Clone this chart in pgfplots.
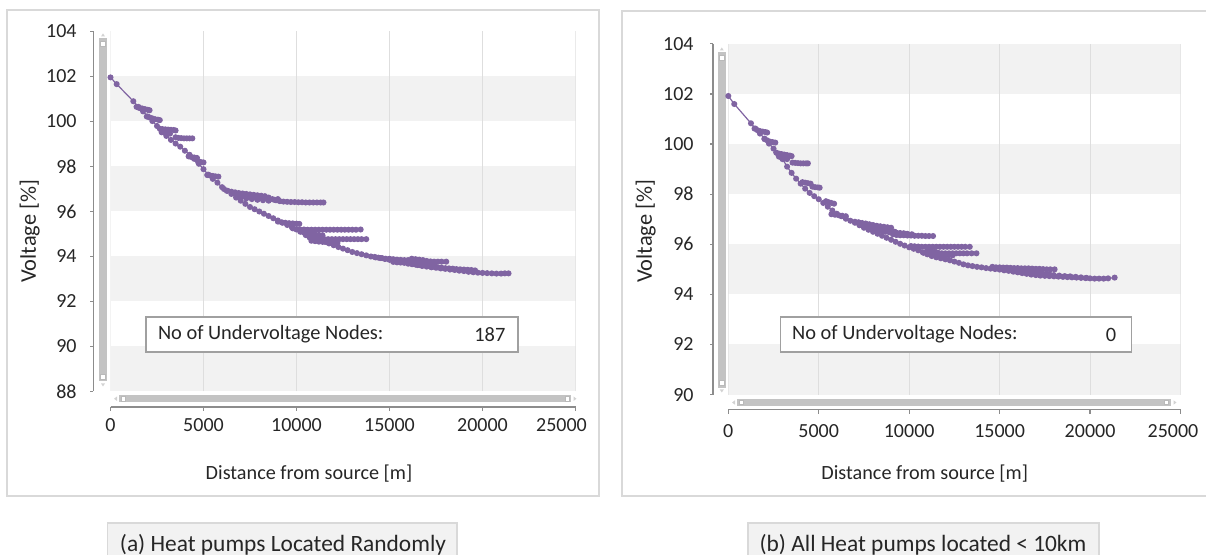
\documentclass[border=0pt]{standalone}
\usepackage{pgfplots}
\pgfplotsset{compat=1.18}
\usepackage{fontspec}
\setmainfont{Carlito}
\definecolor{pcol}{HTML}{8064A2}
\definecolor{bandc}{HTML}{F2F2F2}
\definecolor{gridc}{HTML}{DEDEDE}
\definecolor{scrc}{HTML}{C3C3C3}
\definecolor{axc}{HTML}{8C8C8C}
\definecolor{framec}{HTML}{D9D9D9}
\definecolor{boxc}{HTML}{A0A0A0}
\definecolor{txtc}{HTML}{262626}
\pgfplotsset{
  ser/.style={color=pcol, line width=0.6pt, mark=*, mark size=1.2pt, mark options={solid, fill=pcol}},
  panel/.style={scale only axis, xmin=0, xmax=25000, xtick={0,5000,10000,15000,20000},
    extra x ticks={25000},
    axis line style={draw=none}, tick style={draw=none}, major tick length=0pt,
    /pgf/number format/1000 sep={}, /pgf/number format/assume math mode=true,
    scaled x ticks=false, scaled y ticks=false,
    ticklabel style={font=\fontsize{10pt}{12pt}\selectfont, text=txtc}},
}
\begin{document}
\begin{tikzpicture}
\useasboundingbox (0pt,0pt) rectangle (603pt,277.5pt);
% ---------- decorations in pixel units ----------
\begin{scope}[x=0.5pt, y=-0.5pt, shift={(0pt,277.5pt)}]
  \draw[framec, line width=0.6pt] (6.9,10) rectangle (599,496);
  \draw[framec, line width=0.6pt] (622,11) rectangle (1215,496);
  % left axis lines
  \draw[axc, line width=0.6pt] (93.3,31.5) -- (93.3,391.5);
  \foreach \k in {0,...,8} \draw[axc, line width=0.6pt] (90,{31.5+\k*45}) -- (93.3,{31.5+\k*45});
  \draw[axc, line width=0.6pt] (110.5,407) -- (575.5,407);
  \foreach \k in {0,...,5} \draw[axc, line width=0.6pt] ({110.5+\k*93},407) -- ({110.5+\k*93},411);
  % left scroll bars
  \fill[scrc] (99,38) rectangle (107,381);
  \draw[fill=white, draw=gray!55, line width=0.3pt] (100.5,41) rectangle (105.5,46);
  \draw[fill=white, draw=gray!55, line width=0.3pt] (100.5,374) rectangle (105.5,379);
  \fill[gray!35] (101,36.5) -- (105,36.5) -- (103,33.5) -- cycle;
  \fill[gray!35] (101,383.5) -- (105,383.5) -- (103,386.5) -- cycle;
  \fill[scrc] (119,395) rectangle (571,402.5);
  \draw[fill=white, draw=gray!55, line width=0.3pt] (121,396.5) rectangle (125.5,401);
  \draw[fill=white, draw=gray!55, line width=0.3pt] (565,396.5) rectangle (569.5,401);
  \fill[gray!35] (117,396.5) -- (117,401) -- (114,398.75) -- cycle;
  \fill[gray!35] (573.5,396.5) -- (573.5,401) -- (576.5,398.75) -- cycle;
  % right axis lines
  \draw[axc, line width=0.6pt] (713,43.9) -- (713,394.6);
  \foreach \k in {0,...,7} \draw[axc, line width=0.6pt] (710,{43.9+\k*50.1}) -- (713,{43.9+\k*50.1});
  \draw[axc, line width=0.6pt] (728.3,409.6) -- (1180.5,409.6);
  \foreach \k in {0,...,5} \draw[axc, line width=0.6pt] ({728.3+\k*90.44},409.6) -- ({728.3+\k*90.44},413.6);
  % right scroll bars
  \fill[scrc] (718,52) rectangle (725.5,388);
  \draw[fill=white, draw=gray!55, line width=0.3pt] (719.5,55) rectangle (724,60);
  \draw[fill=white, draw=gray!55, line width=0.3pt] (719.5,380.5) rectangle (724,385.5);
  \fill[gray!35] (719.8,50.5) -- (723.8,50.5) -- (721.8,47.5) -- cycle;
  \fill[gray!35] (719.8,389.5) -- (723.8,389.5) -- (721.8,392.5) -- cycle;
  \fill[scrc] (737,399) rectangle (1171,406);
  \draw[fill=white, draw=gray!55, line width=0.3pt] (739,400.3) rectangle (743.5,404.7);
  \draw[fill=white, draw=gray!55, line width=0.3pt] (1164,400.3) rectangle (1168.5,404.7);
  \fill[gray!35] (735,400.3) -- (735,404.7) -- (732,402.5) -- cycle;
  \fill[gray!35] (1173.5,400.3) -- (1173.5,404.7) -- (1176.5,402.5) -- cycle;
\end{scope}
% ---------- left panel ----------
\begin{axis}[panel, at={(55.25pt,81.75pt)}, anchor=south west, width=232.5pt, height=180pt,
  ymin=88, ymax=104, ytick={88,90,92,94,96,98,100,102,104},
  xticklabel style={anchor=center, yshift=-17pt},
  extra x tick style={xticklabel style={xshift=-7pt}},
  yticklabel style={anchor=east, inner sep=0pt, xshift=-16.75pt}]
\fill[bandc] (axis cs:0,100) rectangle (axis cs:25000,102);
\fill[bandc] (axis cs:0,96) rectangle (axis cs:25000,98);
\fill[bandc] (axis cs:0,92) rectangle (axis cs:25000,94);
\fill[bandc] (axis cs:0,88) rectangle (axis cs:25000,90);
\draw[gridc, line width=0.5pt] (axis cs:0,88) -- (axis cs:0,104);
\draw[gridc, line width=0.5pt] (axis cs:5000,88) -- (axis cs:5000,104);
\draw[gridc, line width=0.5pt] (axis cs:10000,88) -- (axis cs:10000,104);
\draw[gridc, line width=0.5pt] (axis cs:15000,88) -- (axis cs:15000,104);
\draw[gridc, line width=0.5pt] (axis cs:20000,88) -- (axis cs:20000,104);
\draw[gridc, line width=0.5pt] (axis cs:25000,88) -- (axis cs:25000,104);
% trunk
\addplot[ser] coordinates {(0,101.96) (333,101.66) (1226,100.90) (1500,100.65) (1750,100.45) (2000,100.22) (2250,100.02) (2500,99.80) (2750,99.58) (3000,99.36) (3250,99.18) (3500,99.02) (3750,98.88) (4000,98.70) (4250,98.52) (4500,98.34) (4750,98.12) (5000,97.88) (5250,97.64) (5500,97.45) (5750,97.28) (6000,97.08) (6250,96.92) (6500,96.78) (6750,96.62) (7000,96.48) (7250,96.34) (7500,96.20) (7750,96.10) (8000,96.00) (8250,95.90) (8500,95.80) (8750,95.70) (9000,95.60) (9250,95.50) (9500,95.40) (9750,95.30) (10000,95.20) (10250,95.12) (10500,95.04) (10750,94.95) (11000,94.85) (11250,94.76) (11500,94.66) (11750,94.58) (12000,94.50) (12250,94.42) (12500,94.35) (12750,94.28) (13000,94.20) (13250,94.15) (13500,94.10) (13750,94.05) (14000,94.00) (14250,93.96) (14500,93.93) (14750,93.89) (15000,93.85) (15250,93.81) (15500,93.78) (15750,93.74) (16000,93.70) (16250,93.66) (16500,93.62) (16750,93.58) (17000,93.55) (17250,93.52) (17500,93.50) (17750,93.47) (18000,93.45) (18250,93.42) (18500,93.40) (18750,93.37) (19000,93.35) (19250,93.32) (19500,93.30) (19750,93.28) (20000,93.27) (20250,93.26) (20500,93.25) (20750,93.24) (21000,93.24) (21200,93.25) (21400,93.25)};
% branches
\addplot[ser] coordinates {(1400,100.65) (1550,100.60) (1700,100.58) (1850,100.55) (2000,100.52) (2100,100.50)};
\addplot[ser] coordinates {(1950,100.22) (2100,100.18) (2250,100.14) (2400,100.10) (2550,100.08) (2650,100.06)};
\addplot[ser] coordinates {(2650,99.68) (2800,99.66) (2950,99.65) (3100,99.64) (3250,99.63) (3400,99.62) (3500,99.60)};
\addplot[ser] coordinates {(2750,99.52) (2900,99.50) (3050,99.48) (3200,99.46)};
\addplot[ser] coordinates {(3500,99.30) (3650,99.27) (3800,99.26) (3950,99.25) (4100,99.25) (4250,99.25) (4400,99.25)};
\addplot[ser] coordinates {(4200,98.45) (4350,98.42) (4500,98.40) (4650,98.38)};
\addplot[ser] coordinates {(4700,98.22) (4850,98.20) (5000,98.18)};
\addplot[ser] coordinates {(5200,97.62) (5350,97.60) (5500,97.58) (5650,97.56) (5800,97.55)};
\addplot[ser] coordinates {(6100,97.00) (6300,96.92) (6500,96.88) (6700,96.85) (6900,96.82) (7100,96.80) (7300,96.78) (7500,96.76) (7700,96.74) (7900,96.72) (8100,96.70) (8300,96.68) (8500,96.62) (8700,96.55) (8900,96.50) (9100,96.46) (9300,96.44) (9500,96.43) (9700,96.42) (9900,96.42) (10100,96.41) (10300,96.41) (10500,96.40) (10700,96.40) (10900,96.40) (11100,96.40) (11300,96.40) (11450,96.40)};
\addplot[ser] coordinates {(7000,96.62) (7300,96.58) (7600,96.55) (7900,96.52) (8200,96.50) (8500,96.48) (8800,96.52) (9000,96.55)};
\addplot[ser] coordinates {(6800,96.72) (7000,96.70) (7200,96.68) (7400,96.66) (7600,96.64) (7800,96.62) (8000,96.60) (8200,96.58)};
\addplot[ser] coordinates {(9000,95.55) (9200,95.52) (9400,95.50) (9600,95.48) (9800,95.47) (10000,95.46) (10150,95.45)};
\addplot[ser] coordinates {(9800,95.25) (10000,95.22) (10200,95.20) (10400,95.20) (10600,95.19) (10800,95.19) (11000,95.19) (11200,95.19) (11400,95.19) (11600,95.19) (11800,95.19) (12000,95.19) (12200,95.19) (12400,95.19) (12600,95.19) (12800,95.19) (13000,95.19) (13200,95.19) (13450,95.20)};
\addplot[ser] coordinates {(10200,95.10) (10400,95.06) (10600,95.03) (10800,95.00) (11000,94.98) (11200,94.96) (11400,94.94)};
\addplot[ser] coordinates {(10500,94.95) (10700,94.85) (10900,94.80) (11100,94.78) (11300,94.77) (11500,94.77) (11700,94.77) (11900,94.77) (12100,94.77) (12300,94.77) (12500,94.77) (12700,94.77) (12900,94.77) (13100,94.77) (13300,94.77) (13500,94.77) (13750,94.77)};
\addplot[ser] coordinates {(10800,94.70) (11000,94.68) (11200,94.66) (11400,94.65) (11600,94.64) (11800,94.63) (12000,94.62) (12200,94.60)};
\addplot[ser] coordinates {(14200,93.98) (14400,93.95) (14600,93.93) (14800,93.90) (15000,93.90) (15200,93.88) (15400,93.86) (15600,93.85) (15800,93.84) (16000,93.84) (16200,93.83) (16400,93.83) (16600,93.82) (16800,93.80) (17000,93.78) (17200,93.78) (17400,93.77) (17600,93.77) (17800,93.77) (18050,93.77)};
\addplot[ser] coordinates {(15800,93.72) (16000,93.68) (16200,93.66) (16400,93.64) (16600,93.62) (16800,93.60) (17000,93.58) (17200,93.56) (17400,93.54) (17600,93.52) (17800,93.50) (18000,93.48) (18200,93.47) (18400,93.46) (18600,93.44) (18800,93.43) (19000,93.42) (19200,93.41) (19400,93.40) (19600,93.38)};
\addplot[ser] coordinates {(16200,93.90) (16400,93.88) (16600,93.86) (16800,93.84) (17000,93.80)};
\addplot[ser] coordinates {(15200,93.76) (15400,93.74) (15600,93.73) (15800,93.76) (16000,93.78) (16200,93.76) (16400,93.74) (16600,93.72) (16800,93.70) (17000,93.69) (17200,93.68) (17400,93.66)};
\end{axis}
% ---------- right panel ----------
\begin{axis}[panel, at={(364.15pt,80.2pt)}, anchor=south west, width=226.1pt, height=175.35pt,
  ymin=90, ymax=104, ytick={90,92,94,96,98,100,102,104},
  xticklabel style={anchor=center, yshift=-18.2pt},
  extra x tick style={xticklabel style={xshift=-3.75pt}},
  yticklabel style={anchor=east, inner sep=0pt, xshift=-17.15pt}]
\fill[bandc] (axis cs:0,102) rectangle (axis cs:25000,104);
\fill[bandc] (axis cs:0,98) rectangle (axis cs:25000,100);
\fill[bandc] (axis cs:0,94) rectangle (axis cs:25000,96);
\fill[bandc] (axis cs:0,90) rectangle (axis cs:25000,92);
\draw[gridc, line width=0.5pt] (axis cs:0,90) -- (axis cs:0,104);
\draw[gridc, line width=0.5pt] (axis cs:5000,90) -- (axis cs:5000,104);
\draw[gridc, line width=0.5pt] (axis cs:10000,90) -- (axis cs:10000,104);
\draw[gridc, line width=0.5pt] (axis cs:15000,90) -- (axis cs:15000,104);
\draw[gridc, line width=0.5pt] (axis cs:20000,90) -- (axis cs:20000,104);
\draw[gridc, line width=0.5pt] (axis cs:25000,90) -- (axis cs:25000,104);
\addplot[ser] coordinates {(0,101.92) (330,101.60) (1254,100.83) (1500,100.62) (1750,100.42) (2000,100.22) (2250,100.02) (2500,99.82) (2750,99.60) (3000,99.40) (3250,99.10) (3500,98.85) (3750,98.62) (4000,98.42) (4250,98.22) (4500,98.05) (4750,97.92) (5000,97.80) (5250,97.65) (5500,97.50) (5750,97.35) (6000,97.22) (6250,97.12) (6500,97.02) (6750,96.94) (7000,96.86) (7250,96.76) (7500,96.66) (7750,96.58) (8000,96.50) (8250,96.42) (8500,96.34) (8750,96.26) (9000,96.18) (9250,96.10) (9500,96.02) (9750,95.95) (10000,95.88) (10250,95.82) (10500,95.76) (10750,95.68) (11000,95.60) (11250,95.53) (11500,95.48) (11750,95.44) (12000,95.40) (12250,95.36) (12500,95.31) (12750,95.26) (13000,95.20) (13250,95.16) (13500,95.13) (13750,95.10) (14000,95.08) (14250,95.05) (14500,95.03) (14750,95.01) (15000,94.99) (15250,94.96) (15500,94.94) (15750,94.91) (16000,94.88) (16250,94.85) (16500,94.82) (16750,94.79) (17000,94.77) (17250,94.75) (17500,94.74) (17750,94.73) (18000,94.72) (18250,94.71) (18500,94.70) (18750,94.69) (19000,94.68) (19250,94.67) (19500,94.66) (19750,94.65) (20000,94.64) (20250,94.63) (20500,94.63) (20750,94.63) (21000,94.64) (21360,94.67)};
\addplot[ser] coordinates {(1450,100.62) (1600,100.56) (1750,100.52) (1900,100.50) (2050,100.48) (2150,100.46)};
\addplot[ser] coordinates {(2000,100.20) (2150,100.15) (2300,100.10) (2450,100.08) (2600,100.06)};
\addplot[ser] coordinates {(2650,99.66) (2800,99.62) (2950,99.60) (3100,99.58) (3250,99.56) (3400,99.54) (3500,99.52)};
\addplot[ser] coordinates {(2800,99.50) (2950,99.46) (3100,99.42) (3250,99.40)};
\addplot[ser] coordinates {(3550,99.26) (3700,99.25) (3850,99.24) (4000,99.23) (4150,99.23) (4300,99.23) (4400,99.23)};
\addplot[ser] coordinates {(4100,98.48) (4250,98.46) (4400,98.44) (4550,98.42)};
\addplot[ser] coordinates {(4650,98.30) (4800,98.28) (4950,98.27) (5050,98.26)};
\addplot[ser] coordinates {(5400,97.72) (5550,97.68) (5700,97.65) (5850,97.62)};
\addplot[ser] coordinates {(5700,97.20) (5900,97.18) (6100,97.16) (6300,97.14) (6500,97.12)};
\addplot[ser] coordinates {(7000,96.90) (7200,96.88) (7400,96.85) (7600,96.83) (7800,96.80) (8000,96.77) (8200,96.74) (8400,96.72) (8600,96.70) (8800,96.68) (9000,96.66)};
\addplot[ser] coordinates {(7500,96.72) (7700,96.68) (7900,96.64) (8100,96.60) (8300,96.56) (8500,96.52) (8700,96.50) (8900,96.48) (9100,96.47) (9300,96.46) (9500,96.45) (9700,96.44) (9900,96.42) (10150,96.40)};
\addplot[ser] coordinates {(7800,96.62) (8000,96.61) (8200,96.60) (8400,96.62) (8600,96.58) (8800,96.55) (9000,96.52) (9200,96.50)};
\addplot[ser] coordinates {(9100,96.40) (9300,96.37) (9500,96.36) (9700,96.36) (9900,96.35) (10100,96.35) (10300,96.34) (10500,96.34) (10700,96.34) (10900,96.33) (11100,96.33) (11320,96.33)};
\addplot[ser] coordinates {(10100,95.93) (10300,95.92) (10500,95.91) (10700,95.90) (10900,95.90) (11100,95.90) (11300,95.90) (11500,95.90) (11700,95.90) (11900,95.90) (12100,95.90) (12300,95.90) (12500,95.90) (12700,95.90) (12900,95.90) (13100,95.90) (13350,95.90)};
\addplot[ser] coordinates {(10800,95.66) (11000,95.65) (11200,95.64) (11400,95.64) (11600,95.64) (11800,95.64) (12000,95.64) (12200,95.64) (12400,95.64) (12600,95.64) (12800,95.64) (13000,95.64) (13200,95.64) (13450,95.64) (13720,95.64)};
\addplot[ser] coordinates {(11000,95.75) (11200,95.72) (11400,95.70) (11600,95.66) (11800,95.60) (12000,95.55)};
\addplot[ser] coordinates {(11200,95.58) (11400,95.57) (11600,95.56) (11800,95.56) (12000,95.58) (12200,95.57) (12400,95.56)};
\addplot[ser] coordinates {(14600,95.10) (14800,95.08) (15000,95.08) (15200,95.07) (15400,95.07) (15600,95.06) (15800,95.05) (16000,95.05) (16200,95.04) (16400,95.04) (16600,95.04) (16800,95.03) (17000,95.02) (17200,95.02) (17400,95.01) (17600,95.00) (17800,95.00) (18040,95.00)};
\addplot[ser] coordinates {(15800,94.92) (16000,94.90) (16200,94.88) (16400,94.87) (16600,94.86) (16800,94.85) (17000,94.84) (17200,94.83) (17400,94.82) (17600,94.80) (17800,94.78) (18000,94.77) (18300,94.75) (18600,94.73) (18900,94.72) (19200,94.70) (19500,94.68) (19800,94.66)};
\addplot[ser] coordinates {(16000,94.98) (16200,94.97) (16400,94.96) (16600,94.95) (16800,94.94) (17000,94.93) (17200,94.92)};
\end{axis}
% ---------- texts ----------
\node[rotate=90, font=\fontsize{11.2pt}{13pt}\selectfont, text=txtc] at (14.9pt,161.8pt) {Voltage [\%]};
\node[rotate=90, font=\fontsize{11.2pt}{13pt}\selectfont, text=txtc] at (322.8pt,161.8pt) {Voltage [\%]};
\node[font=\fontsize{10.1pt}{12pt}\selectfont, text=txtc] at (154.5pt,40.8pt) {Distance from source [m]};
\node[font=\fontsize{10.1pt}{12pt}\selectfont, text=txtc] at (462.35pt,40.8pt) {Distance from source [m]};
% annotation boxes
\draw[boxc, fill=white, line width=0.6pt] (73pt,101.5pt) rectangle (259pt,119pt);
\node[anchor=west, inner sep=0pt, font=\fontsize{10.2pt}{12pt}\selectfont, text=txtc] at (78.8pt,110.25pt) {No of Undervoltage Nodes:};
\node[anchor=east, inner sep=0pt, font=\fontsize{10.2pt}{12pt}\selectfont, text=txtc] at (252.9pt,110.25pt) {187};
\draw[boxc, fill=white, line width=0.6pt] (390.35pt,101.5pt) rectangle (565.85pt,119pt);
\node[anchor=west, inner sep=0pt, font=\fontsize{10.2pt}{12pt}\selectfont, text=txtc] at (395.9pt,110.25pt) {No of Undervoltage Nodes:};
\node[anchor=east, inner sep=0pt, font=\fontsize{10.2pt}{12pt}\selectfont, text=txtc] at (558.3pt,110.25pt) {0};
% captions
\draw[framec, fill=bandc, line width=0.6pt] (53.85pt,-2pt) rectangle (228.5pt,16pt);
\node[anchor=base, inner sep=0pt, font=\fontsize{11.7pt}{14pt}\selectfont, text=txtc] at (141.5pt,1.5pt) {(a) Heat pumps Located Randomly};
\draw[framec, fill=bandc, line width=0.6pt] (374pt,-2pt) rectangle (549.5pt,16pt);
\node[anchor=base, inner sep=0pt, font=\fontsize{11.7pt}{14pt}\selectfont, text=txtc] at (461.5pt,1.5pt) {(b) All Heat pumps located < 10km};
\end{tikzpicture}
\end{document}
